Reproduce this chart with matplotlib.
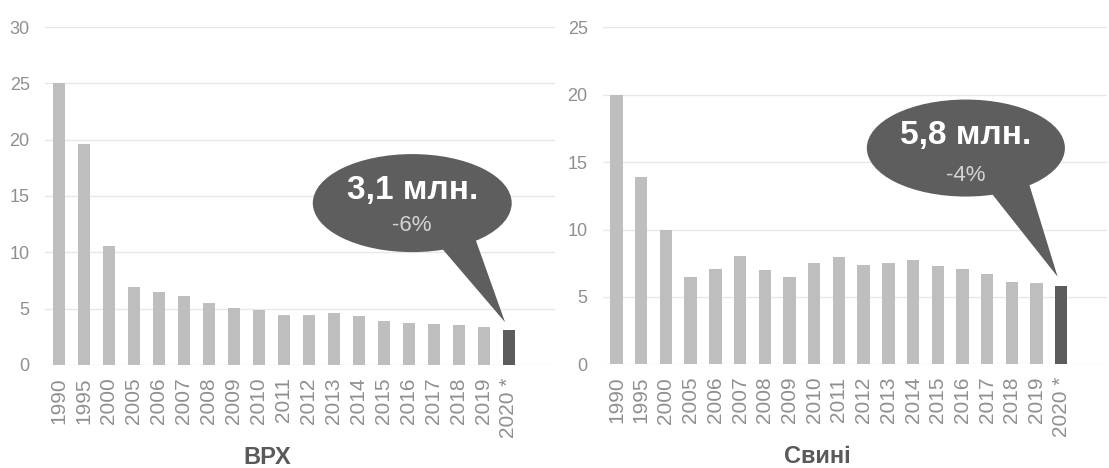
import matplotlib
matplotlib.use("Agg")
import matplotlib.pyplot as plt
from matplotlib.patches import Ellipse, Polygon

plt.rcParams['font.family'] = ['Liberation Sans', 'DejaVu Sans']

years = ['1990', '1995', '2000', '2005', '2006', '2007', '2008', '2009', '2010',
         '2011', '2012', '2013', '2014', '2015', '2016', '2017', '2018', '2019', '2020 *']
cattle = [25.0, 19.6, 10.6, 6.9, 6.45, 6.15, 5.5, 5.1, 4.9,
          4.45, 4.4, 4.65, 4.35, 3.9, 3.75, 3.65, 3.55, 3.35, 3.1]
pigs = [20.0, 13.9, 10.0, 6.45, 7.05, 8.05, 7.0, 6.5, 7.55,
        8.0, 7.4, 7.55, 7.75, 7.3, 7.05, 6.7, 6.1, 6.0, 5.8]

titles = ['ВРХ', 'Свині']
callout_main = ['3,1 млн.', '5,8 млн.']
callout_sub = ['-6%', '-4%']

LIGHT = '#bebebe'
DARK = '#5c5c5c'
BUBBLE = '#5e5e5e'
TICK = '#8f8f8f'
GRID = '#e8e8e8'


def draw_panel(ax, values, ymax, title, main, sub, ell, base, text_y, title_x):
	x = list(range(len(values)))
	colors = [LIGHT] * (len(values) - 1) + [DARK]
	ax.bar(x, values, width=0.5, color=colors, zorder=2)
	ax.set_xlim(-0.55, 19.85)
	ax.set_ylim(0, ymax)
	ax.set_yticks(range(0, ymax + 1, 5))
	ax.set_xticks(x)
	ax.set_xticklabels(years, rotation=90)
	ax.tick_params(axis='both', length=0, colors=TICK)
	ax.tick_params(axis='x', labelsize=15, pad=9)
	ax.tick_params(axis='y', labelsize=13, pad=11)
	ax.grid(axis='y', color=GRID, linewidth=1.0, zorder=0)
	for s in ax.spines.values():
		s.set_visible(False)

	# callout bubble with a tail pointing to the last bar
	fig = ax.figure
	fig.canvas.draw()
	tip = ax.transAxes.inverted().transform(
		ax.transData.transform((len(values) - 1 - 0.15, values[-1] + 0.7)))
	tail = Polygon([base[0], base[1], tip], closed=True, transform=ax.transAxes,
				   facecolor=BUBBLE, edgecolor='none', zorder=4, clip_on=False)
	ax.add_patch(tail)
	e = Ellipse(ell[:2], ell[2], ell[3], transform=ax.transAxes,
				facecolor=BUBBLE, edgecolor='none', zorder=4, clip_on=False)
	ax.add_patch(e)
	ax.text(ell[0], text_y[0], main, transform=ax.transAxes, ha='center', va='center',
			fontsize=24, fontweight='bold', color='white', zorder=5)
	ax.text(ell[0], text_y[1], sub, transform=ax.transAxes, ha='center', va='center',
			fontsize=16, color='#d4d4d4', zorder=5)
	ax.text(title_x, -0.275, title, transform=ax.transAxes, ha='center', va='center',
			fontsize=17, fontweight='bold', color='#5a5a5a')


def main():
	fig = plt.figure(figsize=(11.09, 4.68), dpi=100)
	ax1 = fig.add_axes([0.0406, 0.2201, 0.4599, 0.7222])
	ax2 = fig.add_axes([0.5437, 0.2216, 0.4545, 0.7197])

	draw_panel(ax1, cattle, 30, titles[0], callout_main[0], callout_sub[0],
			   (0.72, 0.479, 0.39, 0.29), [(0.751, 0.393), (0.843, 0.376)],
			   (0.515, 0.412), 0.435)
	draw_panel(ax2, pigs, 25, titles[1], callout_main[1], callout_sub[1],
			   (0.72, 0.642, 0.393, 0.288), [(0.758, 0.532), (0.843, 0.547)],
			   (0.678, 0.560), 0.425)

	fig.savefig('out.png', dpi=100, facecolor='white')


if __name__ == "__main__":
	main()
